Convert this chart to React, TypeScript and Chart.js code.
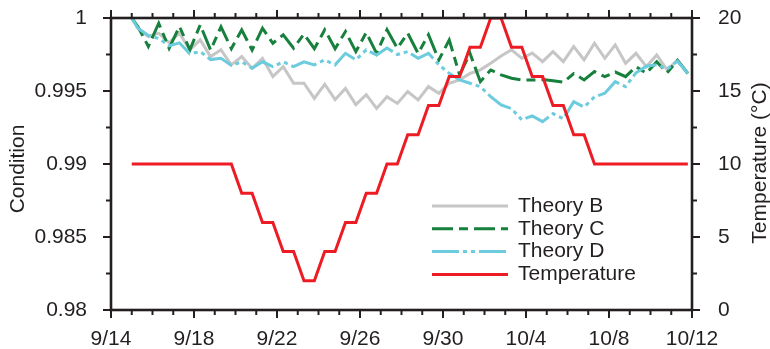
import React, { useEffect, useRef } from 'react';
import { Chart, registerables } from 'chart.js';

Chart.register(...registerables);

// ---- data ----
// sample times, in days after 9/14
const times = [
  1.0, 1.3, 1.8, 2.3, 2.8, 3.3, 3.8, 4.3, 4.8, 5.3, 5.8,
  6.3, 6.8, 7.3, 7.8, 8.3, 8.8, 9.3, 9.8, 10.3, 10.8,
  11.3, 11.8, 12.3, 12.8, 13.3, 13.8, 14.3, 14.8, 15.3, 15.8,
  16.3, 16.8, 17.3, 17.8, 18.3, 18.8, 19.3, 19.8, 20.3, 20.8,
  21.3, 21.8, 22.3, 22.8, 23.3, 23.8, 24.3, 24.8, 25.3, 25.8,
  26.3, 26.8, 27.3, 27.8,
];

const theoryB = [
  1.0, 0.9993, 0.99873, 0.99896, 0.9983, 0.99896, 0.99782, 0.9985, 0.99736, 0.99782, 0.99679,
  0.99736, 0.99656, 0.99724, 0.99599, 0.99667, 0.99553, 0.99553, 0.9945, 0.99546, 0.99441,
  0.99518, 0.99407, 0.99475, 0.99381, 0.99461, 0.99415, 0.99496, 0.99439, 0.9953, 0.99484,
  0.99553, 0.99576, 0.9962, 0.99645, 0.9969, 0.9974, 0.99782, 0.99724, 0.9976, 0.99701,
  0.9977, 0.99701, 0.99804, 0.99713, 0.99827, 0.99724, 0.99816, 0.9969, 0.99758, 0.99667,
  0.99747, 0.99644, 0.99713, 0.9962,
];

const theoryC = [
  1.0, 0.9994, 0.99805, 0.99964, 0.99793, 0.99942, 0.99782, 0.99953, 0.9978, 0.9994, 0.9979,
  0.99919, 0.9978, 0.9993, 0.99827, 0.99885, 0.99793, 0.9989, 0.9979, 0.99919, 0.9979,
  0.99907, 0.9977, 0.999, 0.99758, 0.9992, 0.99793, 0.99896, 0.99758, 0.99885, 0.99713,
  0.9985, 0.9961, 0.99758, 0.99564, 0.99644, 0.9961, 0.99587, 0.99576, 0.99575, 0.99578,
  0.9957, 0.9956, 0.9962, 0.99576, 0.99633, 0.99598, 0.9963, 0.99598, 0.99667, 0.99621,
  0.997, 0.99625, 0.9971, 0.9962,
];

const theoryD = [
  1.0, 0.9993, 0.9988, 0.9986, 0.9981, 0.9983, 0.99755, 0.9977, 0.99715, 0.99724, 0.99675,
  0.997, 0.99656, 0.997, 0.99667, 0.997, 0.99667, 0.997, 0.99679, 0.99713, 0.99679,
  0.99758, 0.99713, 0.99782, 0.99747, 0.99795, 0.9975, 0.9977, 0.99724, 0.99758, 0.9968,
  0.99621, 0.99576, 0.99553, 0.9953, 0.99461, 0.99404, 0.9938, 0.99302, 0.9933, 0.9929,
  0.99345, 0.9931, 0.99427, 0.9939, 0.9946, 0.99485, 0.99564, 0.9953, 0.99625, 0.9967,
  0.9968, 0.9965, 0.99705, 0.9962,
];

const temperature = [
  10, 10, 10, 10, 10, 10, 10, 10, 10, 10, 10,
  8, 8, 6, 6, 4, 4, 2, 2, 4, 4,
  6, 6, 8, 8, 10, 10, 12, 12, 14, 14,
  16, 16, 18, 18, 20, 20, 18, 18, 16, 16,
  14, 14, 12, 12, 10, 10, 10, 10, 10, 10,
  10, 10, 10, 10,
];

const dateTickDays = [0, 4, 8, 12, 16, 20, 24, 28];
const dateLabels = ['9/14', '9/18', '9/22', '9/26', '9/30', '10/4', '10/8', '10/12'];
const conditionTicks = [0.98, 0.985, 0.99, 0.995, 1];
const conditionLabels = ['0.98', '0.985', '0.99', '0.995', '1'];
const tempTicks = [0, 5, 10, 15, 20];
const tempLabels = ['0', '5', '10', '15', '20'];
const conditionMinorStep = 0.0025;
const dayMinorStep = 1;

// ---- styles ----
const FONT = '"Liberation Sans", Arial, Helvetica, sans-serif';
const TEXT = '#231f20';
const AXIS = '#231f20';
const GRAY = '#c6c6c6';
const GREEN = '#16803c';
const BLUE = '#6ccbdc';
const RED = '#ed1c24';
const DASH_C = [21, 6, 9, 6];
const DASH_D = [27, 4, 4, 4, 4, 4];

const legendItems = [
  { label: 'Theory B', color: GRAY, dash: [] as number[] },
  { label: 'Theory C', color: GREEN, dash: DASH_C },
  { label: 'Theory D', color: BLUE, dash: DASH_D },
  { label: 'Temperature', color: RED, dash: [] as number[] },
];

const toPoints = (vals: number[]) => vals.map((v, i) => ({ x: times[i], y: v }));

const framePlugin = {
  id: 'frame',
  afterDatasetsDraw(chart: any) {
    const { ctx, chartArea: a, scales } = chart;
    const xs = scales.x;
    const ys = scales.y;
    ctx.save();
    ctx.strokeStyle = AXIS;
    ctx.lineCap = 'butt';
    const seg = (x1: number, y1: number, x2: number, y2: number) => {
      ctx.beginPath();
      ctx.moveTo(x1, y1);
      ctx.lineTo(x2, y2);
      ctx.stroke();
    };
    ctx.lineWidth = 2;
    for (let d = xs.min; d <= xs.max + 1e-9; d += dayMinorStep) {
      const px = xs.getPixelForValue(d);
      const major = dateTickDays.includes(Math.round(d));
      const len = major ? 8 : 5;
      seg(px, a.bottom, px, a.bottom + len);
      seg(px, a.top, px, a.top - len);
    }
    const n = Math.round((ys.max - ys.min) / conditionMinorStep);
    for (let i = 0; i <= n; i++) {
      const v = ys.min + i * conditionMinorStep;
      const py = ys.getPixelForValue(v);
      const len = i % 2 === 0 ? 8 : 5;
      seg(a.left, py, a.left - len, py);
      seg(a.right, py, a.right + len, py);
    }
    ctx.lineWidth = 2.6;
    ctx.strokeRect(a.left, a.top, a.right - a.left, a.bottom - a.top);
    ctx.restore();
  },
  afterDraw(chart: any) {
    const { ctx, chartArea: a } = chart;
    ctx.save();
    ctx.fillStyle = TEXT;
    ctx.font = `21px ${FONT}`;
    ctx.textBaseline = 'middle';
    ctx.textAlign = 'center';
    ctx.save();
    ctx.translate(18, (a.top + a.bottom) / 2 + 5);
    ctx.rotate(-Math.PI / 2);
    ctx.fillText('Condition', 0, 0);
    ctx.restore();
    ctx.save();
    ctx.translate(a.right + 68, (a.top + a.bottom) / 2 - 1);
    ctx.rotate(-Math.PI / 2);
    ctx.fillText('Temperature (°C)', 0, 0);
    ctx.restore();
    ctx.textAlign = 'left';
    const lx = a.left + 321;
    const ly = a.top + 188;
    legendItems.forEach((it, i) => {
      const yy = ly + i * 22.8;
      ctx.strokeStyle = it.color;
      ctx.lineWidth = 3;
      ctx.setLineDash(it.dash);
      ctx.beginPath();
      ctx.moveTo(lx, yy);
      ctx.lineTo(lx + 76, yy);
      ctx.stroke();
      ctx.setLineDash([]);
      ctx.fillText(it.label, lx + 86, yy);
    });
    ctx.restore();
  },
};

const noVPad = (s: any) => { s.paddingTop = 0; s.paddingBottom = 0; };

export default function App() {
  const ref = useRef<HTMLCanvasElement | null>(null);
  useEffect(() => {
    if (!ref.current) return;
    const tickFont = { family: FONT, size: 21 };
    const chart = new Chart(ref.current, {
      type: 'line',
      data: {
        datasets: [
          {
            label: 'Temperature', data: toPoints(temperature), yAxisID: 'y2',
            borderColor: RED, borderWidth: 3, pointRadius: 0, order: 0,
          },
          {
            label: 'Theory D', data: toPoints(theoryD), yAxisID: 'y',
            borderColor: BLUE, borderWidth: 3, borderDash: DASH_D, pointRadius: 0, order: 1,
          },
          {
            label: 'Theory C', data: toPoints(theoryC), yAxisID: 'y',
            borderColor: GREEN, borderWidth: 3, borderDash: DASH_C, pointRadius: 0, order: 2,
          },
          {
            label: 'Theory B', data: toPoints(theoryB), yAxisID: 'y',
            borderColor: GRAY, borderWidth: 3, pointRadius: 0, order: 3,
          },
        ],
      },
      options: {
        responsive: false,
        animation: false,
        events: [],
        layout: { padding: { top: 18, left: 0, right: 0, bottom: 0 } },
        elements: { line: { tension: 0, borderJoinStyle: 'miter' } },
        plugins: { legend: { display: false }, tooltip: { enabled: false } },
        scales: {
          x: {
            type: 'linear', min: 0, max: 28,
            grid: { display: false }, border: { display: false },
            afterBuildTicks: (s: any) => { s.ticks = dateTickDays.map((v) => ({ value: v })); },
            afterFit: (s: any) => { s.height = 39; s.paddingLeft = 0; s.paddingRight = 0; },
            ticks: {
              autoSkip: false, maxRotation: 0, padding: 9, font: tickFont, color: TEXT,
              callback: (_v: any, i: number) => dateLabels[i],
            },
          },
          y: {
            position: 'left', min: 0.98, max: 1,
            grid: { display: false }, border: { display: false },
            afterBuildTicks: (s: any) => { s.ticks = conditionTicks.map((v) => ({ value: v })); },
            afterFit: (s: any) => { s.width = 111; noVPad(s); },
            ticks: {
              padding: 16, font: tickFont, color: TEXT,
              callback: (_v: any, i: number) => conditionLabels[i],
            },
          },
          y2: {
            position: 'right', min: 0, max: 20,
            grid: { display: false }, border: { display: false },
            afterBuildTicks: (s: any) => { s.ticks = tempTicks.map((v) => ({ value: v })); },
            afterFit: (s: any) => { s.width = 78; noVPad(s); },
            ticks: {
              padding: 18, font: tickFont, color: TEXT,
              callback: (_v: any, i: number) => tempLabels[i],
            },
          },
        },
      },
      plugins: [framePlugin],
    } as any);
    return () => chart.destroy();
  }, []);
  return (
    <div style={{ position: 'absolute', left: 0, top: 0, width: 770, height: 349, background: '#fff' }}>
      <canvas ref={ref} width={770} height={349} />
    </div>
  );
}
